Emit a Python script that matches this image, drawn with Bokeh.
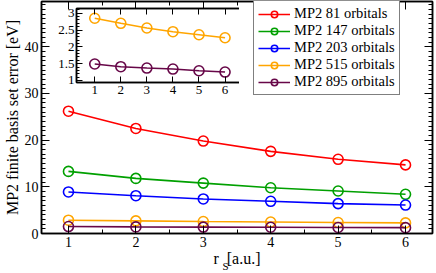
from bokeh.plotting import figure
from bokeh.models import (Range1d, LinearAxis, FixedTicker, Legend, LegendItem,
                          Title, NumeralTickFormatter, ColumnDataSource,
                          CustomJSTickFormatter)
from bokeh.layouts import column
from bokeh.embed import file_html
from bokeh.resources import INLINE

rs = [1, 2, 3, 4, 5, 6]
mp2_81 = [26.2, 22.5, 19.8, 17.6, 15.9, 14.7]
mp2_147 = [13.3, 11.8, 10.8, 9.8, 9.1, 8.4]
mp2_203 = [8.9, 8.1, 7.4, 6.9, 6.4, 6.1]
mp2_515 = [2.85, 2.70, 2.56, 2.45, 2.36, 2.27]
mp2_895 = [1.49, 1.41, 1.37, 1.34, 1.29, 1.25]
labels = ["MP2 81 orbitals", "MP2 147 orbitals", "MP2 203 orbitals",
          "MP2 515 orbitals", "MP2 895 orbitals"]
colors = ["#ff0000", "#00a000", "#0000ff", "#ffa500", "#670748"]
series = [mp2_81, mp2_147, mp2_203, mp2_515, mp2_895]

FONT = "Liberation Serif"

p = figure(width=436, height=273, output_backend="svg", toolbar_location=None,
           x_range=Range1d(0.6, 6.4), y_range=Range1d(0, 49.7),
           min_border_left=41, min_border_right=4, min_border_top=1,
           min_border_bottom=40)
p.xgrid.visible = False
p.ygrid.visible = False
p.outline_line_color = "black"
p.outline_line_width = 1.5
p.background_fill_color = "white"

items = []
for ys, c, lab in zip(series, colors, labels):
    src = ColumnDataSource(dict(x=rs, y=ys))
    l = p.line("x", "y", source=src, line_color=c, line_width=1.6)
    s = p.scatter("x", "y", source=src, marker="circle", size=10,
                  line_color=c, line_width=1.6, fill_color=None)
    items.append(LegendItem(label=lab, renderers=[l, s]))


def style_axis(ax, labels_on=True, size="14px"):
    ax.axis_line_color = "black"
    ax.axis_line_width = 1.5
    ax.major_tick_line_color = "black"
    ax.minor_tick_line_color = "black"
    ax.major_tick_in = 8
    ax.major_tick_out = 0
    ax.minor_tick_in = 4
    ax.minor_tick_out = 0
    ax.major_label_text_font = FONT
    ax.major_label_text_color = "black"
    if labels_on:
        ax.major_label_text_font_size = size
        ax.major_label_standoff = 4
    else:
        ax.formatter = CustomJSTickFormatter(code="return '';")
        ax.major_label_text_font_size = "1px"
        ax.major_label_standoff = 0
    ax.axis_label_text_font = FONT
    ax.axis_label_text_font_style = "normal"
    ax.axis_label_text_color = "black"
    ax.axis_label_text_font_size = "16px"


xt = FixedTicker(ticks=[1, 2, 3, 4, 5, 6],
                 minor_ticks=[0.5, 1.5, 2.5, 3.5, 4.5, 5.5, 6.5])
yt = FixedTicker(ticks=[0, 10, 20, 30, 40],
                 minor_ticks=list(range(0, 50)))

style_axis(p.xaxis[0])
p.xaxis[0].ticker = xt
p.xaxis[0].major_label_standoff = 3
p.xaxis[0].axis_label = "r\u00a0\u00a0[a.u.]"
p.xaxis[0].axis_label_standoff = 0
style_axis(p.yaxis[0])
p.yaxis[0].ticker = yt
p.yaxis[0].major_label_standoff = 3
p.yaxis[0].axis_label = "MP2 finite basis set error [eV]"
p.yaxis[0].axis_label_standoff = 1

top = LinearAxis(ticker=xt)
style_axis(top, labels_on=False)
p.add_layout(top, "above")
right = LinearAxis(ticker=yt)
style_axis(right, labels_on=False)
p.add_layout(right, "right")

# subscript "S" of r_S, pulled up beside the axis title
sub = Title(text="S", text_font=FONT, text_font_size="11px",
            text_font_style="normal", text_color="black",
            align="left", vertical_align="top", offset=181, standoff=-19)
p.add_layout(sub, "below")

legend = Legend(items=items, location=(212, 138))
legend.margin = 0
legend.label_text_font = FONT
legend.label_text_font_size = "14.5px"
legend.label_text_color = "black"
legend.border_line_color = "black"
legend.border_line_width = 1.2
legend.glyph_width = 32
legend.glyph_height = 16
legend.label_height = 16
legend.spacing = 0
legend.padding = 4
legend.label_standoff = 4
legend.background_fill_alpha = 1
p.add_layout(legend, "center")

# inset
inset = figure(frame_width=172, frame_height=74, output_backend="svg",
               toolbar_location=None,
               x_range=Range1d(0.3, 6.9), y_range=Range1d(0.94, 3.14),
               min_border_left=30, min_border_right=2, min_border_top=6,
               min_border_bottom=20)
inset.xgrid.visible = False
inset.ygrid.visible = False
inset.outline_line_color = "black"
inset.outline_line_width = 1.5
inset.background_fill_color = "white"
inset.border_fill_color = None
for ys, c in zip(series[3:], colors[3:]):
    src = ColumnDataSource(dict(x=rs, y=ys))
    inset.line("x", "y", source=src, line_color=c, line_width=1.6)
    inset.scatter("x", "y", source=src, marker="circle", size=10,
                  line_color=c, line_width=1.6, fill_color=None)

ixt = FixedTicker(ticks=[1, 2, 3, 4, 5, 6])
iyt = FixedTicker(ticks=[1, 1.5, 2, 2.5, 3],
                  minor_ticks=[1.0, 1.1, 1.2, 1.3, 1.4, 1.5, 1.6, 1.7, 1.8, 1.9,
                               2.0, 2.1, 2.2, 2.3, 2.4, 2.5, 2.6, 2.7, 2.8, 2.9,
                               3.0, 3.1])
style_axis(inset.xaxis[0], size="13px")
inset.xaxis[0].ticker = ixt
inset.xaxis[0].major_label_standoff = 3
style_axis(inset.yaxis[0], size="13px")
inset.yaxis[0].ticker = iyt
inset.yaxis[0].formatter = NumeralTickFormatter(format="0.[0]")
inset.yaxis[0].major_label_standoff = 2
for ax in (inset.xaxis[0], inset.yaxis[0]):
    ax.major_tick_in = 6
    ax.minor_tick_in = 3
itop = LinearAxis(ticker=ixt)
style_axis(itop, labels_on=False)
itop.major_tick_in = 6
inset.add_layout(itop, "above")
iright = LinearAxis(ticker=iyt)
style_axis(iright, labels_on=False)
iright.major_tick_in = 6
iright.minor_tick_in = 3
inset.add_layout(iright, "right")
inset.styles = {"position": "absolute", "left": "35px", "top": "2px"}

layout = column(p, inset)
open("out.html", "w").write(file_html(layout, INLINE))
